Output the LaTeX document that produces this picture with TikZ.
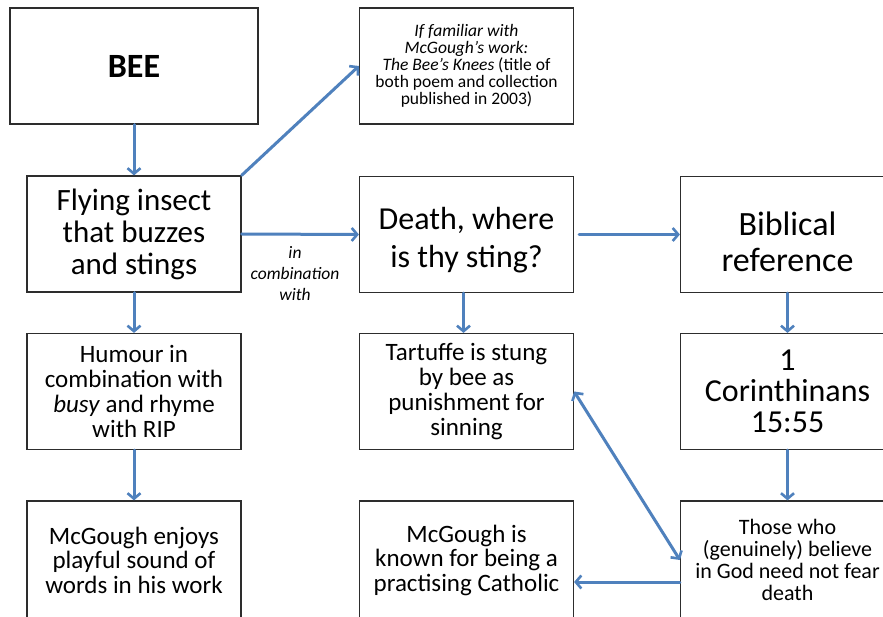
\documentclass[tikz,border=0pt]{standalone}
\usepackage{fontspec}
\setmainfont{Carlito}
\usetikzlibrary{arrows.meta,calc}
\definecolor{linkblue}{RGB}{79,129,189}
\definecolor{boxline}{RGB}{45,45,45}
\begin{document}
\begin{tikzpicture}[x=1pt,y=-1pt,
  box/.style={draw=boxline,line width=1.2pt,fill=white,inner sep=0pt,align=center},
  wide/.style={box,minimum width=214pt},
  tall/.style={minimum height=116pt},
  sz/.style 2 args={font=\fontsize{#1}{#2}\selectfont},
  link/.style={draw=linkblue,line width=3pt,line cap=round,
    -{Straight Barb[length=5.5pt,width=13pt,line width=2.6pt]}},
  twoway/.style={link,{Straight Barb[length=5.5pt,width=13pt,line width=2.6pt]}-{Straight Barb[length=5.5pt,width=13pt,line width=2.6pt]}},
  lbl/.style={align=center,inner sep=0pt,sz={17.5}{21}}
]
\clip (0,0) rectangle (883,617);
\fill[white] (0,0) rectangle (883,617);

% top row
\node[box,minimum width=248pt,tall,sz={34}{36}] (bee) at (134,66) {\textbf{BEE}};
\node[wide,tall,sz={17.5}{16.9}] (fam) at (466.5,66)
  {\textit{If familiar with}\\\textit{McGough’s work:}\\\textit{The Bee’s Knees} (title of\\both poem and collection\\published in 2003)};

% second row
\node[wide,tall,sz={31}{32}] (fly) at (134,234) {Flying insect\\that buzzes\\and stings};
\node[wide,tall,sz={32}{38}] (death) at (466.5,234.5) {\rule{0pt}{33pt}Death, where\\is thy sting?};
\node[wide,tall,sz={34}{35.5}] (bib) at (787.5,234.5) {\rule{0pt}{38pt}Biblical\\reference};

% third row
\node[wide,tall,sz={25}{24.7}] (hum) at (134,391.5) {Humour in\\combination with\\\textit{busy} and rhyme\\with RIP};
\node[wide,tall,sz={25}{24.7}] (tart) at (466.5,391.5) {Tartuffe is stung\\by bee as\\punishment for\\sinning};
\node[wide,tall,sz={32}{31}] (cor) at (787.5,391.5) {1\\Corinthinans\\15:55};

% bottom row
\node[wide,minimum height=118pt,sz={25}{24.5}] (enj) at (134,560) {McGough enjoys\\playful sound of\\words in his work};
\node[wide,minimum height=118pt,sz={25}{24.5}] (cath) at (466.5,560) {McGough is\\known for being a\\practising Catholic};
\node[wide,minimum height=118pt,sz={22}{21.8}] (fear) at (787.5,560) {Those who\\(genuinely) believe\\in God need not fear\\death};

% connectors
\draw[link] (bee.south) -- (fly.north);
\draw[link] (fly.north east) -- (fam.west);
\draw[link] (fly.east) -- (death.west);
\node[lbl] (combo) at (295,274) {\textit{in}\\\textit{combination}\\\textit{with}};
\draw[link] ([xshift=5pt]death.east) -- (bib.west);
\draw[link] (fly.south) -- (hum.north);
\draw[link] ([xshift=-3pt]death.south) -- ([xshift=-3pt]tart.north);
\draw[link] (bib.south) -- (cor.north);
\draw[link] (hum.south) -- (enj.north);
\draw[link] (cor.south) -- (fear.north);
\coordinate (fearlow) at ($(fear.west)+(0,22)$);
\draw[link] (fearlow) -- (cath.east |- fearlow);
\draw[twoway] (tart.east) -- (fear.west);
\end{tikzpicture}
\end{document}
